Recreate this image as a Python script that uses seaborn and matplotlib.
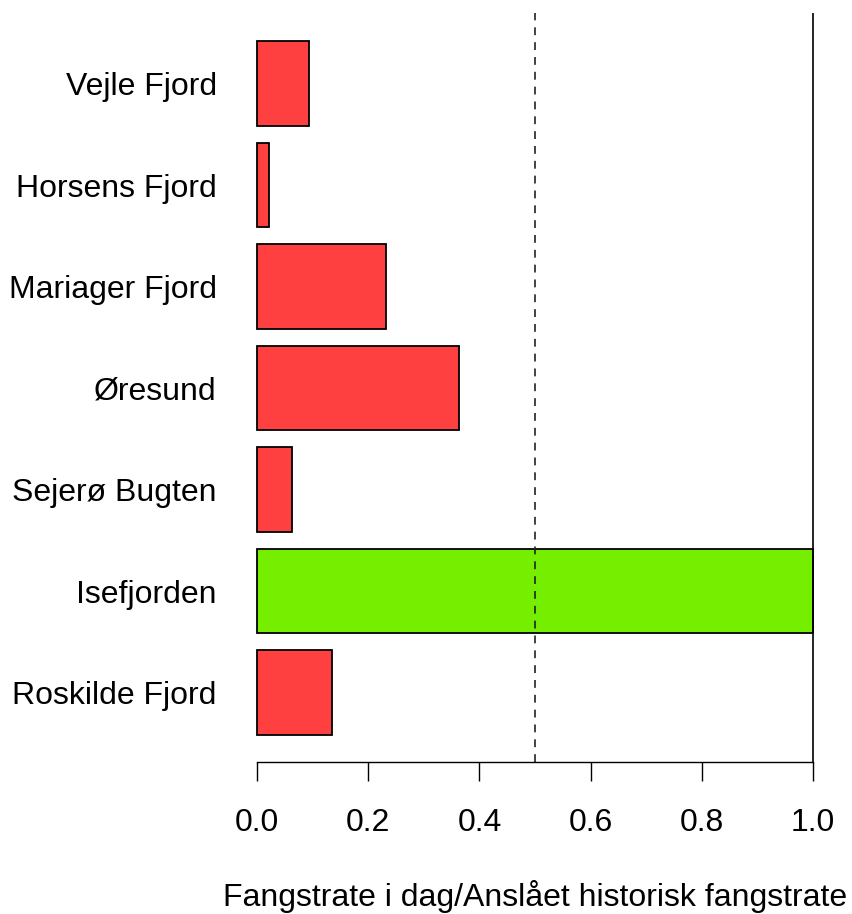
import pandas as pd
import matplotlib
matplotlib.use('Agg')
import matplotlib.pyplot as plt
import seaborn as sns

# Data
areas = ['Vejle Fjord', 'Horsens Fjord', 'Mariager Fjord', 'Øresund',
         'Sejerø Bugten', 'Isefjorden', 'Roskilde Fjord']
ratio = [0.094, 0.021, 0.232, 0.364, 0.062, 1.0, 0.134]
bar_colors = ['#FF4040', '#FF4040', '#FF4040', '#FF4040', '#FF4040', '#76EE00', '#FF4040']
xticks = [0.0, 0.2, 0.4, 0.6, 0.8, 1.0]
xlabel = 'Fangstrate i dag/Anslået historisk fangstrate'

df = pd.DataFrame({'area': areas, 'ratio': ratio})

sns.set_style('white')
plt.rcParams['font.family'] = ['Liberation Sans', 'DejaVu Sans']
plt.rcParams['text.color'] = 'black'
plt.rcParams['xtick.color'] = 'black'
plt.rcParams['ytick.color'] = 'black'
plt.rcParams['axes.labelcolor'] = 'black'

fig = plt.figure(figsize=(8.52, 9.14), dpi=100)
ax = fig.add_axes([0.2756, 0.1663, 0.7048, 0.8195])

sns.barplot(data=df, x='ratio', y='area', hue='area', palette=bar_colors,
            legend=False, width=0.833, edgecolor='black', linewidth=1.3,
            saturation=1, ax=ax)

# reference lines
ax.axvline(0.5, color='#222222', lw=1.2, linestyle=(0, (4.7, 4.2)))
ax.axvline(1.0, color='black', lw=1.2)

ax.set_xlim(-0.04, 1.04)
ax.set_ylim(6.684, -0.695)

for s in ['top', 'right', 'left']:
    ax.spines[s].set_visible(False)
ax.spines['bottom'].set_bounds(0, 1)
ax.spines['bottom'].set_color('black')
ax.spines['bottom'].set_linewidth(1.0)

ax.set_xticks(xticks)
ax.set_xticklabels([f'{t:.1f}' for t in xticks], fontsize=23)
ax.tick_params(axis='x', length=14, width=1.0, color='black', pad=19, bottom=True)
ax.tick_params(axis='y', length=0, pad=13, labelsize=23)

ax.set_ylabel('')
ax.set_xlabel(xlabel, fontsize=23, labelpad=30)

fig.savefig('out.png', dpi=100, facecolor='white')
